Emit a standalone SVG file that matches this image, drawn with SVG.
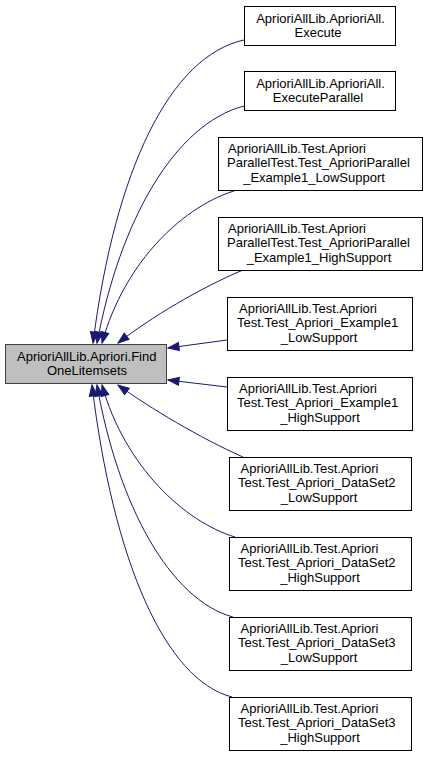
<svg xmlns="http://www.w3.org/2000/svg" width="429" height="757" viewBox="0 0 429 757">
<style>
.n rect{fill:#ffffff;stroke:#000000;stroke-width:1}
.m rect{fill:#bfbfbf;stroke:#404040;stroke-width:1}
text{font-family:"Liberation Sans",Arial,sans-serif;font-size:13px;fill:#000000}
.c{text-anchor:middle}
.e path{fill:none;stroke:#191970;stroke-width:1;marker-end:url(#ah)}
</style>
<defs>
<marker id="ah" markerUnits="userSpaceOnUse" markerWidth="12" markerHeight="9" refX="11" refY="4" orient="auto" overflow="visible">
<path d="M0,0 L11,4 L0,8 z" fill="#191970" stroke="#191970" stroke-width="1"/>
</marker>
</defs>
<rect width="429" height="757" fill="#ffffff"/>
<g class="e" id="edges">
<path d="M244,40 C170,56 115,170 93,343"/>
<path d="M244,106 C175,124 120,220 97,343"/>
<path d="M237,190 C185,205 125,260 102,343"/>
<path d="M243,270 C200,288 150,318 118,343"/>
<path d="M227,340 L168,348"/>
<path d="M227,387 L168,380"/>
<path d="M243,457 C200,438 150,408 118,385"/>
<path d="M235,537 C185,522 125,467 102,385"/>
<path d="M233,617 C170,600 118,505 97,385"/>
<path d="M232,697 C165,680 113,560 92,385"/>
</g>
<g class="m" id="node_main">
<rect x="5.5" y="344.5" width="161" height="39"/>
<text x="17" y="360.5">AprioriAllLib.Apriori.Find</text>
<text class="c" x="87" y="374.5">OneLitemsets</text>
</g>
<g class="n" id="node1">
<rect x="244.5" y="6.5" width="151" height="39"/>
<text class="c" x="320.5" y="22.5">AprioriAllLib.AprioriAll.</text>
<text class="c" x="318" y="36.5">Execute</text>
</g>
<g class="n" id="node2">
<rect x="244.5" y="71.5" width="151" height="39"/>
<text class="c" x="320.5" y="87.5">AprioriAllLib.AprioriAll.</text>
<text class="c" x="318" y="101.5">ExecuteParallel</text>
</g>
<g class="n" id="node3">
<rect x="218.5" y="137.5" width="204" height="53"/>
<text x="228" y="152.5">AprioriAllLib.Test.Apriori</text>
<text x="227" y="167">ParallelTest.Test_AprioriParallel</text>
<text class="c" x="314" y="181.5">_Example1_LowSupport</text>
</g>
<g class="n" id="node4">
<rect x="218.5" y="217.5" width="204" height="53"/>
<text x="228" y="232.5">AprioriAllLib.Test.Apriori</text>
<text x="227" y="247">ParallelTest.Test_AprioriParallel</text>
<text class="c" x="319" y="261.5">_Example1_HighSupport</text>
</g>
<g class="n" id="node5">
<rect x="227.5" y="297.5" width="185" height="53"/>
<text x="239" y="312.5">AprioriAllLib.Test.Apriori</text>
<text x="237" y="327">Test.Test_Apriori_Example1</text>
<text class="c" x="319" y="341.5">_LowSupport</text>
</g>
<g class="n" id="node6">
<rect x="227.5" y="377.5" width="185" height="53"/>
<text x="239" y="392.5">AprioriAllLib.Test.Apriori</text>
<text x="237" y="407">Test.Test_Apriori_Example1</text>
<text class="c" x="320" y="421.5">_HighSupport</text>
</g>
<g class="n" id="node7">
<rect x="229.5" y="457.5" width="182" height="53"/>
<text x="240.5" y="472.5">AprioriAllLib.Test.Apriori</text>
<text x="238" y="487">Test.Test_Apriori_DataSet2</text>
<text class="c" x="319" y="501.5">_LowSupport</text>
</g>
<g class="n" id="node8">
<rect x="229.5" y="537.5" width="182" height="53"/>
<text x="240.5" y="552.5">AprioriAllLib.Test.Apriori</text>
<text x="238" y="567">Test.Test_Apriori_DataSet2</text>
<text class="c" x="320" y="581.5">_HighSupport</text>
</g>
<g class="n" id="node9">
<rect x="229.5" y="617.5" width="182" height="53"/>
<text x="240.5" y="632.5">AprioriAllLib.Test.Apriori</text>
<text x="238" y="647">Test.Test_Apriori_DataSet3</text>
<text class="c" x="319" y="661.5">_LowSupport</text>
</g>
<g class="n" id="node10">
<rect x="229.5" y="697.5" width="182" height="53"/>
<text x="240.5" y="712.5">AprioriAllLib.Test.Apriori</text>
<text x="238" y="727">Test.Test_Apriori_DataSet3</text>
<text class="c" x="320" y="741.5">_HighSupport</text>
</g>
</svg>
